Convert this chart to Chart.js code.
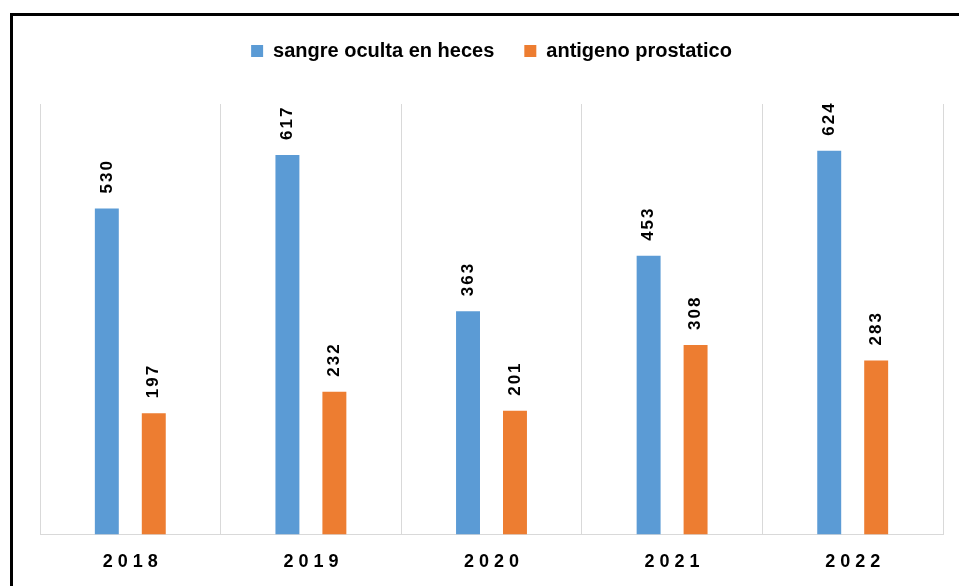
<!DOCTYPE html>
<html>
<head>
<meta charset="utf-8">
<script src="https://cdn.jsdelivr.net/npm/chart.js@4/dist/chart.umd.min.js"></script>
<style>
  html, body { margin: 0; padding: 0; background: #fff; overflow: hidden; }
  #wrap { position: relative; width: 959px; height: 586px; }
  #frame {
    position: absolute; left: 10px; top: 13px; width: 1000px; height: 700px;
    border: 3px solid #000; pointer-events: none;
  }
</style>
</head>
<body>
<div id="wrap">
  <canvas id="chart" width="959" height="586"></canvas>
  <div id="frame"></div>
</div>
<script>
const years = ["2018", "2019", "2020", "2021", "2022"];
const sangre = [530, 617, 363, 453, 624];
const antigeno = [197, 232, 201, 308, 283];
const seriesNames = ["sangre oculta en heces", "antigeno prostatico"];

const FONT = "'Liberation Sans', Arial, sans-serif";

// extra room between the legend and the plot
const legendGap = {
  id: "legendGap",
  beforeInit(chart) {
    const fit = chart.legend.fit;
    chart.legend.fit = function () {
      fit.bind(chart.legend)();
      this.height += 33;
    };
  }
};

// rotated value labels above each bar
const barLabels = {
  id: "barLabels",
  afterDatasetsDraw(chart) {
    const ctx = chart.ctx;
    ctx.save();
    ctx.font = "bold 17px " + FONT;
    ctx.fillStyle = "#000";
    ctx.letterSpacing = "2px";
    ctx.textAlign = "left";
    ctx.textBaseline = "middle";
    chart.data.datasets.forEach((ds, i) => {
      chart.getDatasetMeta(i).data.forEach((bar, j) => {
        ctx.save();
        ctx.translate(bar.x, bar.y - 15);
        ctx.rotate(-Math.PI / 2);
        ctx.fillText(String(ds.data[j]), 0, 0);
        ctx.restore();
      });
    });
    ctx.restore();
  }
};

// spaced-out year labels under the axis
const yearLabels = {
  id: "yearLabels",
  afterDraw(chart) {
    const ctx = chart.ctx;
    const xs = chart.scales.x;
    ctx.save();
    ctx.font = "bold 18px " + FONT;
    ctx.fillStyle = "#000";
    ctx.letterSpacing = "5px";
    ctx.textAlign = "center";
    ctx.textBaseline = "middle";
    years.forEach((y, i) => {
      ctx.fillText(y, xs.getPixelForTick(i) + 2.5, chart.chartArea.bottom + 28);
    });
    ctx.restore();
  }
};

new Chart(document.getElementById("chart"), {
  type: "bar",
  data: {
    labels: years,
    datasets: [
      { label: seriesNames[0], data: sangre, backgroundColor: "#5B9BD5" },
      { label: seriesNames[1], data: antigeno, backgroundColor: "#ED7D31" }
    ]
  },
  options: {
    responsive: false,
    animation: false,
    categoryPercentage: 0.52,
    barPercentage: 0.51,
    layout: { padding: { left: 40, right: 16, top: 11, bottom: 0 } },
    plugins: {
      legend: {
        position: "top",
        labels: {
          boxWidth: 12,
          boxHeight: 12,
          padding: 30,
          color: "#000",
          font: { family: FONT, size: 20, weight: "bold" }
        }
      },
      tooltip: { enabled: false }
    },
    scales: {
      x: {
        grid: { offset: true, color: "#d9d9d9", borderDash: [3, 2], drawTicks: false },
        border: { color: "#d9d9d9" },
        ticks: { color: "transparent", padding: 15, font: { family: FONT, size: 18, weight: "bold" } }
      },
      y: { display: false, min: 0, max: 700 }
    }
  },
  plugins: [legendGap, barLabels, yearLabels]
});
</script>
</body>
</html>
